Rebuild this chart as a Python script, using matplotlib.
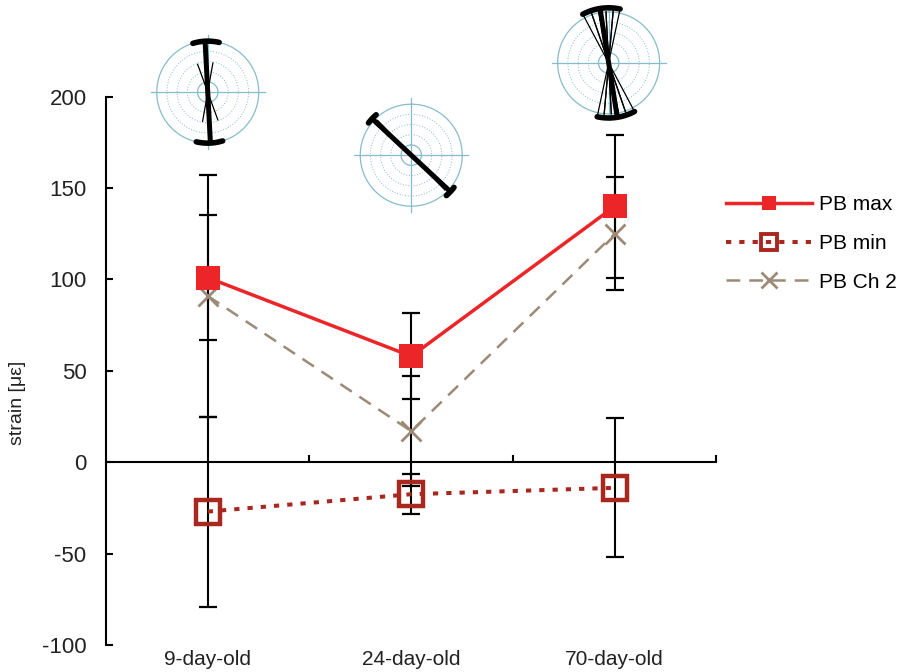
import numpy as np
import matplotlib
matplotlib.use("Agg")
import matplotlib.pyplot as plt
from matplotlib.lines import Line2D

plt.rcParams['font.family'] = ['Liberation Sans', 'DejaVu Sans']
plt.rcParams['axes.unicode_minus'] = False

# ---------------- data ----------------
categories = ["9-day-old", "24-day-old", "70-day-old"]
pb_max = [101, 58, 140]
pb_max_err = [34, 23.5, 39]
pb_min = [-27, -17.5, -14]
pb_min_err = [52, 11, 38]
pb_ch2 = [91, 17, 125]
pb_ch2_err = [66, 30, 31]
y_ticks = [-100, -50, 0, 50, 100, 150, 200]

# rose diagrams (bearing in degrees clockwise from north, bidirectional)
rose_center_y = [202.5, 168, 218.5]
rose_dx = [0.0, 0.0, -0.03]
rose_main_angle = [-3, -47, -9]
rose_main_len = [1.0, 1.05, 1.05]
rose_cap_from = [-17, -53, -28]
rose_cap_to = [13, -41, 12]
rose_cap_r = [1.0, 1.05, 1.08]
rose_petals = [
    [(-20, 10, 0.58)],
    [(-49, -44, 0.95)],
    [(-28, -19, 1.05), (-19, -11, 1.05), (-11, -3, 1.0), (-3, 5, 1.0), (5, 12, 1.05)],
]

c_max = '#ec2528'
c_min = '#a8281f'
c_ch2 = '#9d8a76'
c_ring = '#86bccc'

W, H = 904, 672
fig = plt.figure(figsize=(W / 100, H / 100), dpi=100)
ax_l, ax_r, ax_b, ax_t = 106, 716.5, 645, 96.7
ax = fig.add_axes([ax_l / W, 1 - ax_b / H, (ax_r - ax_l) / W, (ax_b - ax_t) / H])
ax.set_facecolor('none')

x = np.arange(len(categories)) + 0.5

# error bars
for vals, errs in ((pb_max, pb_max_err), (pb_ch2, pb_ch2_err), (pb_min, pb_min_err)):
    ax.errorbar(x, vals, yerr=errs, fmt='none', ecolor='black', elinewidth=1.5,
                capsize=6.5, capthick=1.6, zorder=2)

ax.plot(x, pb_ch2, color=c_ch2, lw=1.8, dashes=(5.5, 3.6), marker='x', markersize=14,
        markeredgewidth=2.0, zorder=3, label='PB Ch 2')
ax.plot(x, pb_min, color=c_min, lw=2.9, dashes=(1.3, 2.0), zorder=3)
ax.plot(x, pb_min, color=c_min, lw=0, marker='s', markersize=17.5, markerfacecolor='none',
        markeredgewidth=3.2, zorder=4)
ax.plot(x, pb_max, color=c_max, lw=2.5, marker='s', markersize=17, markeredgewidth=0,
        zorder=4)

ax.set_xlim(0, 3)
ax.set_ylim(-100, 200)
ax.set_yticks(y_ticks)
ax.set_yticklabels([str(v) for v in y_ticks], fontsize=16, color='#222222')
ax.set_xticks([1, 2, 3])
ax.set_xticklabels([])
ax.spines['top'].set_visible(False)
ax.spines['right'].set_visible(False)
ax.spines['bottom'].set_position(('data', 0))
ax.spines['left'].set_linewidth(1.5)
ax.spines['bottom'].set_linewidth(1.5)
ax.tick_params(axis='y', direction='in', length=5, width=1.5, pad=14)
ax.tick_params(axis='x', direction='in', length=5, width=1.5)
ax.set_ylabel('strain [με]', fontsize=14, color='#222222')
ax.yaxis.set_label_coords(-0.131, 0.442)

for xi, lab in zip(x, categories):
    ax.text(xi, -0.01, lab, transform=ax.get_xaxis_transform(), ha='center', va='top',
            fontsize=15, color='#222222')

# legend
handles = [
    Line2D([], [], color=c_max, lw=2.5, marker='s', markersize=10, markeredgewidth=0),
    Line2D([], [], color=c_min, lw=2.9, dashes=(1.3, 2.0), marker='s', markersize=11,
           markerfacecolor='none', markeredgewidth=2.8),
    Line2D([], [], color=c_ch2, lw=1.8, dashes=(5.5, 3.6), marker='x', markersize=11,
           markeredgewidth=2.0),
]
fig.legend(handles, ['PB max', 'PB min', 'PB Ch 2'], loc='upper left',
           bbox_to_anchor=(716 / W, 1 - 185 / H), frameon=False, fontsize=15,
           handlelength=4.1, labelspacing=0.94, handletextpad=0.35, borderpad=0)

# rose diagrams as inset polar axes
R_px = 51.0
rmax = 1.25
size_px = 2 * rmax * R_px
th_full = np.linspace(0, 2 * np.pi, 361)
for i in range(3):
    cx, cy = ax.transData.transform((x[i] + rose_dx[i], rose_center_y[i]))
    pa = fig.add_axes([(cx - size_px / 2) / W, (cy - size_px / 2) / H, size_px / W, size_px / H],
                      projection='polar')
    pa.set_theta_zero_location('N')
    pa.set_theta_direction(-1)
    pa.set_ylim(0, rmax)
    pa.set_axis_off()
    pa.patch.set_alpha(0)
    # rings
    pa.plot(th_full, np.full_like(th_full, 1.0), color=c_ring, lw=0.9)
    for rr in (0.8, 0.6, 0.4):
        pa.plot(th_full, np.full_like(th_full, rr), color=c_ring, lw=0.7, ls=(0, (1, 1.8)))
    pa.plot(th_full, np.full_like(th_full, 0.2), color=c_ring, lw=0.9)
    pa.plot([np.pi / 2, 3 * np.pi / 2], [1.12, 1.12], color=c_ring, lw=0.9)
    pa.plot([0, np.pi], [1.12, 1.12], color=c_ring, lw=0.9)
    # petals (edges only)
    for (a1, a2, L) in rose_petals[i]:
        t1, t2 = np.deg2rad(a1), np.deg2rad(a2)
        pa.plot([t1, t1 + np.pi], [L, L], color='black', lw=0.9)
        pa.plot([t2, t2 + np.pi], [L, L], color='black', lw=0.9)
    # main thick bar
    a = np.deg2rad(rose_main_angle[i])
    pa.plot([a, a + np.pi], [rose_main_len[i], rose_main_len[i]], color='black', lw=3.6,
            solid_capstyle='butt')
    # caps
    for off in (0, 180):
        arc = np.deg2rad(np.linspace(rose_cap_from[i], rose_cap_to[i], 40) + off)
        pa.plot(arc, np.full_like(arc, rose_cap_r[i]), color='black', lw=4.0,
                solid_capstyle='round')

fig.savefig('out.png', dpi=100)
